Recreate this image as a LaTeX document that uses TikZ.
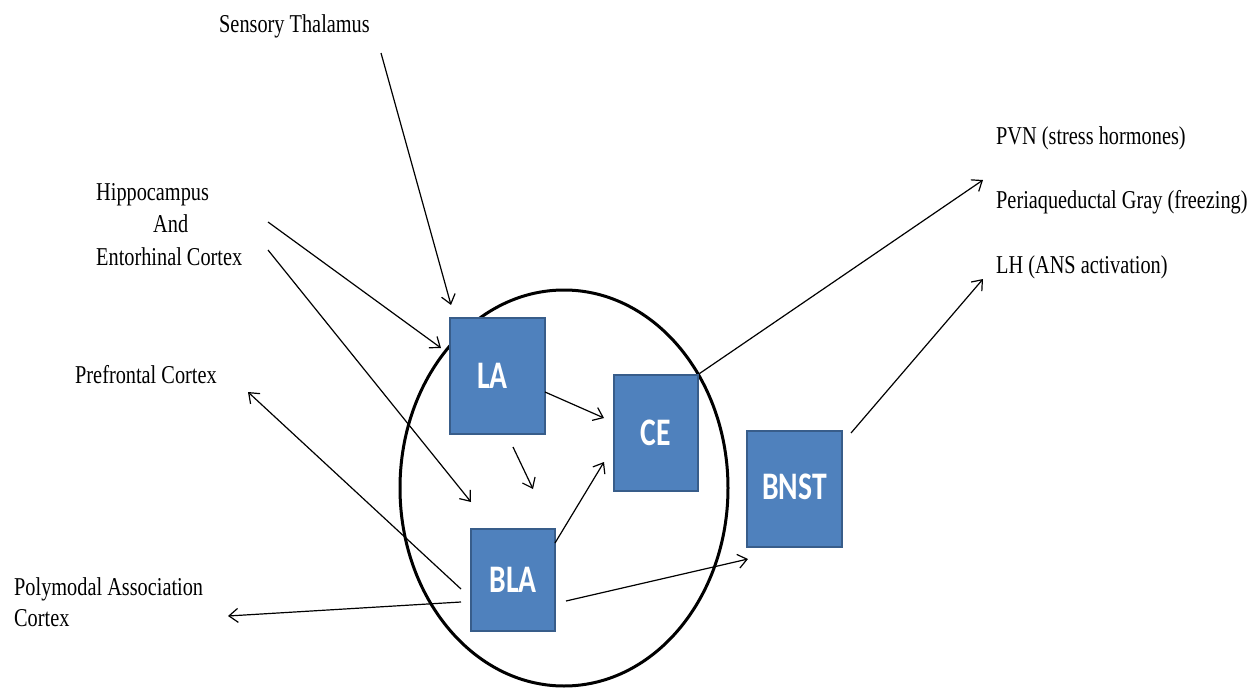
\documentclass[tikz,border=0pt]{standalone}
\usepackage{fontspec}
\setmainfont[FakeStretch=0.79]{Liberation Serif}
\newfontfamily\boxfont[FakeStretch=0.76]{Carlito}
\usetikzlibrary{arrows.meta,shapes.geometric}
\definecolor{boxfill}{HTML}{4F81BD}
\definecolor{boxline}{HTML}{385D8A}
\begin{document}
\begin{tikzpicture}[x=1pt,y=-1pt,
  region/.style={draw=boxline,line width=2.8pt,fill=boxfill,text=white,
    font=\boxfont\bfseries\fontsize{39}{39}\selectfont,inner sep=0pt},
  lbl/.style={font=\fontsize{25.7}{32}\selectfont,inner sep=0pt,align=left},
  conn/.style={line width=1.2pt,-{Straight Barb[length=9pt,width=14pt]}},
  amyg/.style={draw,line width=3pt}]
\useasboundingbox (0,0) rectangle (1259,688);
% amygdala outline
\node[amyg,ellipse,minimum width=328pt,minimum height=396pt,inner sep=0pt] (amy) at (564,488) {};
% boxes
\node[region,minimum width=95pt,minimum height=116pt] (LA) at (497.5,376) {\hspace*{-10pt}LA};
\node[region,minimum width=84pt,minimum height=116pt] (CE) at (656,433) {\raisebox{-8pt}{CE}};
\node[region,minimum width=95pt,minimum height=116pt] (BNST) at (794.5,489) {\raisebox{5pt}{BNST}};
\node[region,minimum width=84pt,minimum height=102pt] (BLA) at (513,580) {BLA};
% labels
\node[lbl,anchor=base west] (st) at (219,32) {Sensory Thalamus};
\node[lbl,anchor=base west] (hip1) at (96,200) {Hippocampus};
\node[lbl,anchor=base west] (hip2) at (153,232) {And};
\node[lbl,anchor=base west] (hip3) at (96,265) {Entorhinal Cortex};
\node[lbl,anchor=base west] (pfc) at (75,383) {Prefrontal Cortex};
\node[lbl,anchor=base west] (pm1) at (14,595) {Polymodal Association};
\node[lbl,anchor=base west] (pm2) at (14,626) {Cortex};
\node[lbl,anchor=base west] (pvn) at (996,144) {PVN (stress hormones)};
\node[lbl,anchor=base west] (pag) at (996,208) {Periaqueductal Gray (freezing)};
\node[lbl,anchor=base west] (lh) at (996,273) {LH (ANS activation)};
% connector end points
\coordinate (a1s) at (381,53);   \coordinate (a1e) at (451,305);
\coordinate (a2s) at (268,222);  \coordinate (a2e) at (441,348);
\coordinate (a3s) at (268,250);  \coordinate (a3e) at (471,502);
\coordinate (a4s) at (545,392);  \coordinate (a4e) at (604,418);
\coordinate (a5s) at (513,447);  \coordinate (a5e) at (533,489);
\coordinate (a6s) at (555,543);  \coordinate (a6e) at (604,462);
\coordinate (a7e) at (983,180);
\coordinate (a8s) at (851,433);  \coordinate (a8e) at (983,279);
\coordinate (a9s) at (566,601);  \coordinate (a9e) at (748,559);
\coordinate (a10s) at (461,589); \coordinate (a10e) at (248,392);
\coordinate (a11s) at (461,602); \coordinate (a11e) at (228,616);
% connectors
\draw[conn] (a1s) -- (a1e);
\draw[conn] (a2s) -- (a2e);
\draw[conn] (a3s) -- (a3e);
\draw[conn] (a4s) -- (a4e);
\draw[conn] (a5s) -- (a5e);
\draw[conn] (a6s) -- (a6e);
\draw[conn] (CE.north east) -- (a7e);
\draw[conn] (a8s) -- (a8e);
\draw[conn] (a9s) -- (a9e);
\draw[conn] (a10s) -- (a10e);
\draw[conn] (a11s) -- (a11e);
\end{tikzpicture}
\end{document}
